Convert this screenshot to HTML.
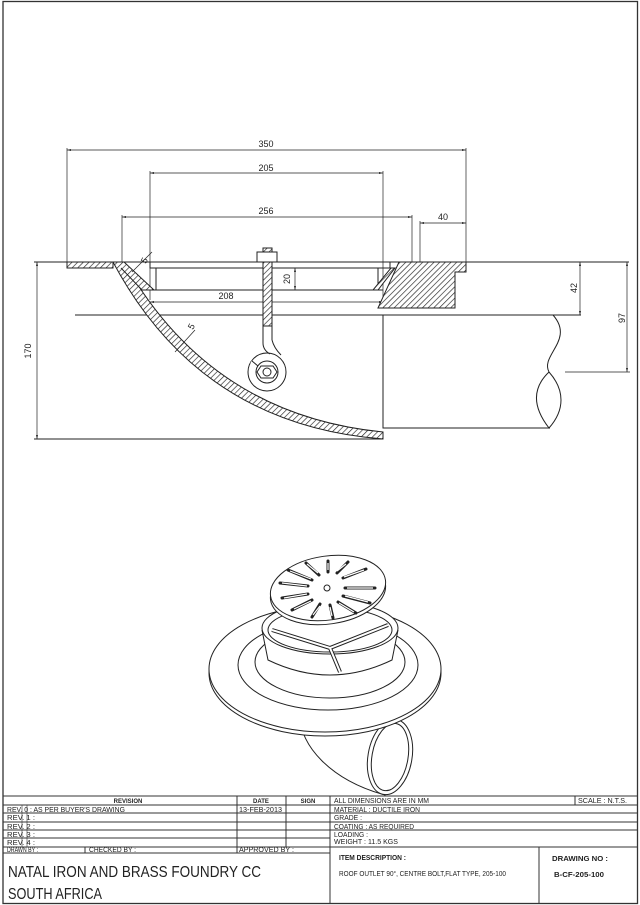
<!DOCTYPE html>
<html><head><meta charset="utf-8"><style>
html,body{margin:0;padding:0;background:#fff}
svg{display:block}
text{font-family:"Liberation Sans",sans-serif;fill:#222}
</style></head><body>
<svg width="640" height="905" viewBox="0 0 640 905" xmlns="http://www.w3.org/2000/svg">
<defs>
<pattern id="h" width="4" height="4" patternUnits="userSpaceOnUse" patternTransform="rotate(45)">
<rect width="4" height="4" fill="#fff"/><line x1="0" y1="0" x2="0" y2="4" stroke="#222" stroke-width="1.3"/></pattern>
<marker id="a" markerWidth="6" markerHeight="6" refX="6" refY="3" orient="auto-start-reverse"><path d="M0,1.5 L6,3 L0,4.5z" fill="#222"/></marker>
</defs>
<rect x="3" y="1.5" width="634.5" height="902" fill="none" stroke="#333" stroke-width="1.3"/>
<g stroke="#222" stroke-width="1" fill="none">
<line x1="34" y1="262" x2="629" y2="262"/>
<line x1="75" y1="315" x2="581" y2="315"/>
<line x1="34" y1="439" x2="383" y2="439"/>
<line x1="67" y1="148" x2="67" y2="262" stroke-width=".7"/>
<line x1="466" y1="148" x2="466" y2="262" stroke-width=".7"/>
<line x1="67" y1="150" x2="466" y2="150" marker-start="url(#a)" marker-end="url(#a)" stroke-width=".7"/>
<line x1="150" y1="171" x2="150" y2="300" stroke-width=".7"/>
<line x1="383" y1="171" x2="383" y2="300" stroke-width=".7"/>
<line x1="150" y1="173" x2="383" y2="173" marker-start="url(#a)" marker-end="url(#a)" stroke-width=".7"/>
<line x1="122" y1="215" x2="122" y2="262" stroke-width=".7"/>
<line x1="412" y1="215" x2="412" y2="262" stroke-width=".7"/>
<line x1="122" y1="217" x2="412" y2="217" marker-start="url(#a)" marker-end="url(#a)" stroke-width=".7"/>
<line x1="420" y1="221" x2="420" y2="262" stroke-width=".7"/>
<line x1="420" y1="223" x2="466" y2="223" marker-start="url(#a)" marker-end="url(#a)" stroke-width=".7"/>
<line x1="150" y1="302" x2="383" y2="302" marker-start="url(#a)" marker-end="url(#a)" stroke-width=".7"/>
<line x1="295" y1="268" x2="295" y2="290" marker-start="url(#a)" marker-end="url(#a)" stroke-width=".7"/>
<line x1="37" y1="262" x2="37" y2="439" marker-start="url(#a)" marker-end="url(#a)" stroke-width=".7"/>
<line x1="580" y1="262" x2="580" y2="315" marker-start="url(#a)" marker-end="url(#a)" stroke-width=".7"/>
<line x1="627" y1="262" x2="627" y2="372" marker-start="url(#a)" marker-end="url(#a)" stroke-width=".7"/>
<line x1="565" y1="372" x2="630" y2="372" stroke-width=".7"/>
<rect x="67" y="262" width="46" height="6" fill="url(#h)"/>
<path d="M113,262 Q200,425 383,439 L383,432 Q210,415 124,262 Z" fill="url(#h)"/>
<path d="M124,262 L154,290 L142,290 L121,268" fill="url(#h)"/>
<rect x="150" y="262" width="240" height="6"/>
<line x1="156" y1="268" x2="156" y2="290"/>
<line x1="378" y1="268" x2="378" y2="290"/>
<line x1="150" y1="290" x2="383" y2="290"/>
<path d="M378,308 L399,262 L466,262 L466,272 L455,272 L455,308 Z" fill="url(#h)"/>
<path d="M378,290 L395,268 L391,268 L373,290Z" fill="url(#h)"/>
<polyline points="383,315 383,428 550,428"/>
<path d="M553,315 C575,340 540,355 549,372"/>
<path d="M549,372 C530,390 535,410 549,428 C565,410 565,390 549,372"/>
<!-- bolt -->
<rect x="263" y="248" width="9" height="78" fill="url(#h)"/>
<rect x="257" y="252" width="20" height="10" fill="#fff"/>
<circle cx="267" cy="372" r="19" fill="#fff"/>
<path d="M251,362 L258,366" stroke="#fff" stroke-width="3"/>
<line x1="252" y1="361" x2="258" y2="366"/>
<line x1="263" y1="326" x2="263" y2="343"/>
<line x1="272" y1="326" x2="272" y2="340"/>
<path d="M263,343 Q263,350 270,354"/>
<path d="M272,340 Q274,348 281,355"/>
<circle cx="267" cy="372" r="11"/>
<polygon points="261,366 273,366 277,372 273,378 261,378 257,372" fill="#fff"/>
<circle cx="267" cy="372" r="4"/>
<line x1="132" y1="272" x2="152" y2="252" stroke-width=".7"/>
<line x1="175" y1="352" x2="195" y2="330" stroke-width=".7"/>
</g>
<g font-size="9" text-anchor="middle">
<text x="266" y="147">350</text>
<text x="266" y="171">205</text>
<text x="266" y="214">256</text>
<text x="443" y="220">40</text>
<text x="226" y="299">208</text>
<text transform="translate(290,279) rotate(-90)">20</text>
<text transform="translate(31,351) rotate(-90)">170</text>
<text transform="translate(577,288) rotate(-90)">42</text>
<text transform="translate(625,318) rotate(-90)">97</text>
<text transform="translate(147,262) rotate(-60)">5</text>
<text transform="translate(194,328) rotate(-60)">5</text>
</g>
<!-- 3D view -->
<g stroke="#222" stroke-width="1" fill="#fff">
<path d="M300,716 C300,745 330,780 385,795 L395,722 C370,720 350,718 330,716 Z"/>
<ellipse cx="390" cy="757" rx="22" ry="38" transform="rotate(10 390 757)"/>
<ellipse cx="390" cy="757" rx="18" ry="34" transform="rotate(10 390 757)" fill="none"/>
<ellipse cx="325" cy="673" rx="116" ry="63"/>
<ellipse cx="325" cy="669" rx="116" ry="63"/>
<ellipse cx="328" cy="665" rx="90" ry="45" fill="none"/>
<ellipse cx="330" cy="662" rx="75" ry="36" fill="none"/>
<path d="M262,630 L268,660 Q330,690 392,660 L398,630" fill="#fff"/>
<ellipse cx="330" cy="628" rx="68" ry="26"/>
<ellipse cx="330" cy="630" rx="62" ry="22" fill="none"/>
<path d="M272,630 L330,648 L388,625 M330,648 L340,672" fill="none" stroke-width="4"/>
<path d="M272,630 L330,648 L388,625 M330,648 L340,672" fill="none" stroke="#fff" stroke-width="2"/>
<ellipse cx="328" cy="592" rx="58" ry="32" transform="rotate(-8 328 592)"/>
<ellipse cx="328" cy="588" rx="58" ry="32" transform="rotate(-8 328 588)"/>
<circle cx="327" cy="588" r="3"/>
<g fill="none" stroke-width="3" stroke-linecap="round">
<path d="M345,588 L375,588 M343,596 L370,603 M338,602 L356,613 M330,605 L333,618 M320,604 L312,617 M312,600 L292,610 M308,594 L282,598 M308,586 L280,583 M312,580 L288,570 M319,575 L306,563 M328,572 L328,561 M337,573 L348,562 M343,578 L366,569"/>
</g>
<g fill="none" stroke="#fff" stroke-width="1.2">
<path d="M347,588 L373,588 M345,596 L368,602 M339,603 L354,612 M330,607 L332,616 M320,606 L313,615 M311,601 L294,609 M307,594 L284,598 M307,586 L282,583 M311,579 L290,571 M318,573 L307,564 M328,570 L328,563 M337,571 L346,564 M344,577 L364,570"/>
</g>
</g>
<!-- title block -->
<g stroke="#333" stroke-width="1" fill="none">
<line x1="3" y1="796" x2="637" y2="796"/>
<line x1="3" y1="805" x2="637" y2="805"/>
<line x1="3" y1="813" x2="637" y2="813"/>
<line x1="3" y1="822" x2="637" y2="822"/>
<line x1="3" y1="830" x2="637" y2="830"/>
<line x1="3" y1="838" x2="330" y2="838"/>
<line x1="3" y1="847" x2="637" y2="847"/>
<line x1="3" y1="853" x2="330" y2="853"/>
<line x1="237" y1="796" x2="237" y2="853"/>
<line x1="286" y1="796" x2="286" y2="847"/>
<line x1="330" y1="796" x2="330" y2="904"/>
<line x1="575" y1="796" x2="575" y2="805"/>
<line x1="539" y1="847" x2="539" y2="904"/>
<line x1="85" y1="847" x2="85" y2="853"/>
<line x1="22" y1="805" x2="22" y2="847" stroke-width=".6"/>
<line x1="27" y1="805" x2="27" y2="847" stroke-width=".6"/>
</g>
<g font-size="7.5">
<text x="128" y="803" text-anchor="middle" font-size="6" font-weight="bold">REVISION</text>
<text x="261" y="803" text-anchor="middle" font-size="6" font-weight="bold">DATE</text>
<text x="308" y="803" text-anchor="middle" font-size="6" font-weight="bold">SIGN</text>
<text x="7" y="812" textLength="118" lengthAdjust="spacingAndGlyphs">REV. 0  : AS PER BUYER'S DRAWING</text>
<text x="239" y="812" textLength="43" lengthAdjust="spacingAndGlyphs">13-FEB-2013</text>
<text x="7" y="820" textLength="28" lengthAdjust="spacingAndGlyphs">REV. 1  :</text>
<text x="7" y="829" textLength="28" lengthAdjust="spacingAndGlyphs">REV. 2  :</text>
<text x="7" y="837" textLength="28" lengthAdjust="spacingAndGlyphs">REV. 3  :</text>
<text x="7" y="845" textLength="28" lengthAdjust="spacingAndGlyphs">REV. 4  :</text>
<text x="7" y="852" textLength="31" lengthAdjust="spacingAndGlyphs">DRAWN BY :</text>
<text x="89" y="852" textLength="47" lengthAdjust="spacingAndGlyphs">CHECKED BY :</text>
<text x="239" y="852" textLength="55" lengthAdjust="spacingAndGlyphs">APPROVED BY :</text>
<text x="334" y="803" textLength="95" lengthAdjust="spacingAndGlyphs">ALL DIMENSIONS ARE IN MM</text>
<text x="578" y="803" textLength="49" lengthAdjust="spacingAndGlyphs">SCALE : N.T.S.</text>
<text x="334" y="812" textLength="86" lengthAdjust="spacingAndGlyphs">MATERIAL : DUCTILE IRON</text>
<text x="334" y="820" textLength="28" lengthAdjust="spacingAndGlyphs">GRADE :</text>
<text x="334" y="829" textLength="80" lengthAdjust="spacingAndGlyphs">COATING : AS REQUIRED</text>
<text x="334" y="837" textLength="34" lengthAdjust="spacingAndGlyphs">LOADING :</text>
<text x="334" y="844" textLength="64" lengthAdjust="spacingAndGlyphs">WEIGHT : 11.5 KGS</text>
<text x="339" y="860" font-weight="bold" textLength="67" lengthAdjust="spacingAndGlyphs">ITEM DESCRIPTION :</text>
<text x="339" y="876" textLength="167" lengthAdjust="spacingAndGlyphs">ROOF OUTLET 90°, CENTRE BOLT,FLAT TYPE, 205-100</text>
<text x="552" y="861" font-weight="bold" textLength="56" lengthAdjust="spacingAndGlyphs">DRAWING NO :</text>
<text x="554" y="877" font-weight="bold" textLength="50" lengthAdjust="spacingAndGlyphs">B-CF-205-100</text>
<text x="8" y="877" font-size="16" textLength="253" lengthAdjust="spacingAndGlyphs">NATAL IRON AND BRASS FOUNDRY CC</text>
<text x="8" y="899" font-size="16" textLength="94" lengthAdjust="spacingAndGlyphs">SOUTH AFRICA</text>
</g>
</svg>
</body></html>
